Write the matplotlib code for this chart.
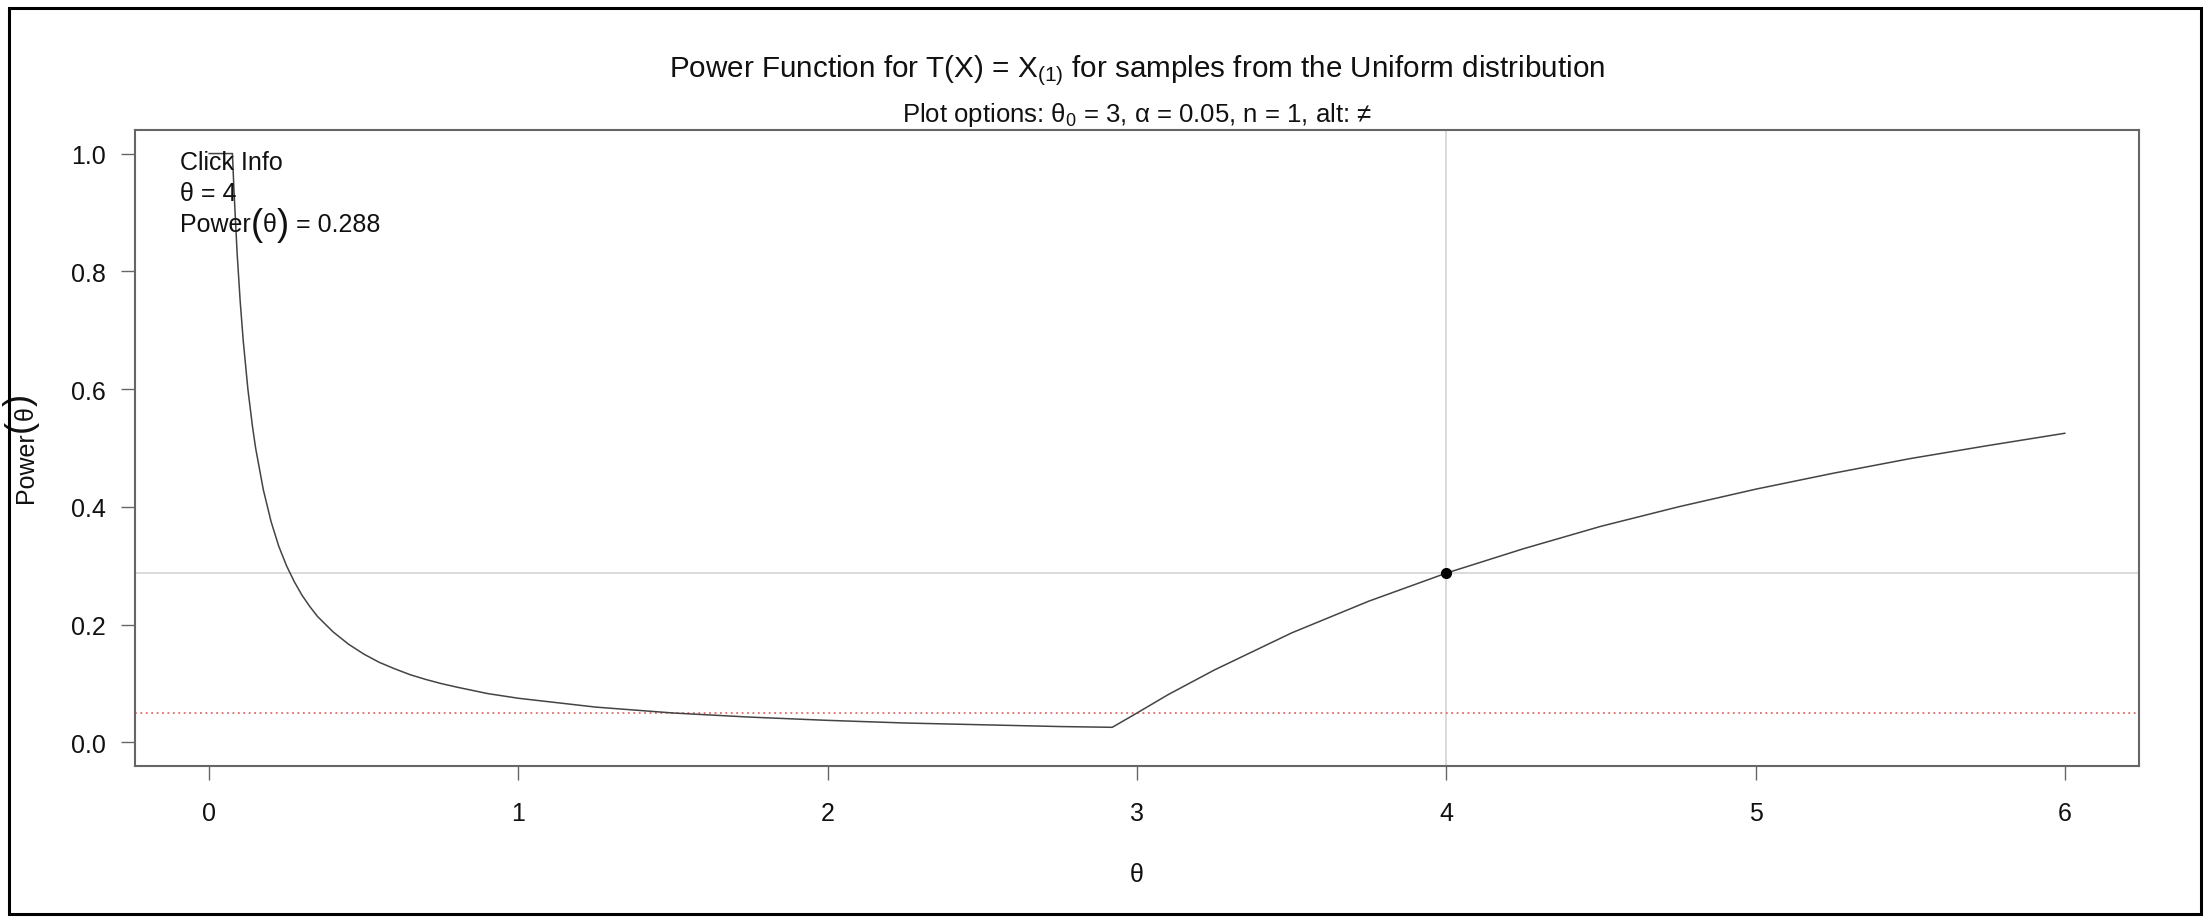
import matplotlib
matplotlib.use("Agg")
import matplotlib.pyplot as plt
from matplotlib.patches import Rectangle

plt.rcParams['font.family'] = ['Liberation Sans', 'DejaVu Sans']
plt.rcParams['mathtext.fontset'] = 'custom'
plt.rcParams['mathtext.rm'] = 'Liberation Sans'
plt.rcParams['mathtext.it'] = 'Liberation Sans'
plt.rcParams['mathtext.bf'] = 'Liberation Sans:bold'

# ---- data ----
theta = [0.0, 0.075, 0.08, 0.09, 0.10, 0.11, 0.125, 0.14, 0.15, 0.175, 0.2, 0.225,
         0.25, 0.275, 0.3, 0.325, 0.35, 0.4, 0.45, 0.5, 0.55, 0.6, 0.65, 0.7, 0.75,
         0.8, 0.9, 1.0, 1.25, 1.5, 1.75, 2.0, 2.25, 2.5, 2.75, 2.92, 3.0, 3.1, 3.2,
         3.25, 3.5, 3.75, 4.0, 4.25, 4.5, 4.75, 5.0, 5.25, 5.5, 5.75, 6.0]
power = [1.0, 1.0, 0.938, 0.833, 0.75, 0.682, 0.60, 0.536, 0.50, 0.429, 0.375, 0.333,
         0.30, 0.273, 0.25, 0.231, 0.214, 0.188, 0.167, 0.15, 0.136, 0.125, 0.115,
         0.107, 0.10, 0.094, 0.083, 0.075, 0.06, 0.05, 0.043, 0.0375, 0.033, 0.03,
         0.027, 0.0257, 0.05, 0.081, 0.109, 0.123, 0.186, 0.24, 0.2875, 0.329, 0.367,
         0.40, 0.43, 0.457, 0.482, 0.504, 0.525]
alpha_level = 0.05
click_theta = 4
click_power = 0.288
x_ticks = [0, 1, 2, 3, 4, 5, 6]
y_ticks = [0.0, 0.2, 0.4, 0.6, 0.8, 1.0]
y_ticklabels = ['0.0', '0.2', '0.4', '0.6', '0.8', '1.0']

W, H = 2208, 920
FS = 18
fig = plt.figure(figsize=(W / 100, H / 100), dpi=100)
fig.patch.set_facecolor('white')

# outer frame
fig.patches.append(Rectangle((9 / W, 5 / H), (2201 - 9) / W, (911 - 5) / H,
                             transform=fig.transFigure, fill=False,
                             edgecolor='black', linewidth=2.2, zorder=10))

ax = fig.add_axes([135 / W, 1 - 767 / H, (2139 - 135) / W, (767 - 131) / H])
ax.set_xlim(-0.24, 6.24)
ax.set_ylim(-0.04, 1.04)

ax.axhline(click_power, color='#d4d4d4', lw=1.2, zorder=1)
ax.axvline(click_theta, color='#d4d4d4', lw=1.2, zorder=1)
ax.axhline(alpha_level, color='#e06a6a', lw=1.3, linestyle=(0, (1, 2.0)), zorder=2)
ax.plot(theta, power, color='#444444', lw=1.1, zorder=3)
ax.plot([click_theta], [click_power], 'o', color='black', ms=7, zorder=4)

for s in ax.spines.values():
    s.set_color('#666666')
    s.set_linewidth(1.5)

ax.set_xticks(x_ticks)
ax.set_xticklabels([str(v) for v in x_ticks])
ax.set_yticks(y_ticks)
ax.set_yticklabels(y_ticklabels)
ax.tick_params(axis='both', length=10, width=1.0, color='#666666',
               labelsize=FS, labelcolor='#111111')
ax.tick_params(axis='x', pad=15)
ax.tick_params(axis='y', pad=11)

renderer = fig.canvas.get_renderer()


def seq_text(x_px, y_px, parts, rotation=0):
    """Place text pieces one after another, starting at pixel (x_px, y_px) on the baseline."""
    x, y = x_px, y_px
    for s, fs, shift in parts:
        if rotation == 0:
            t = fig.text(x, y - shift, s, fontsize=fs, ha='left', va='baseline',
                         transform=None, color='#111111')
            ext = t.get_window_extent(renderer)
            x += ext.width
        else:
            t = fig.text(x + shift, y, s, fontsize=fs, ha='left', va='baseline',
                         rotation=90, rotation_mode='anchor', transform=None,
                         color='#111111')
            ext = t.get_window_extent(renderer)
            y += ext.height


PF = FS * 1.45
# click info (pixel coordinates, origin bottom-left)
seq_text(180, H - 170, [('Click Info', FS, 0)])
seq_text(180, H - 201, [('\u03b8 = 4', FS, 0)])
seq_text(180, H - 232, [('Power', FS, 0), ('(', PF, 3), ('\u03b8', FS, 0), (')', PF, 3),
                        (' = 0.288', FS, 0)])

# titles and labels
cx = (135 + 2139) / 2 / W
fig.text(cx, 1 - 71 / H, r'Power Function for T(X) = X$_{(1)}$ for samples from the Uniform distribution',
         fontsize=21.3, ha='center', va='center', color='#111111')
fig.text(cx, 1 - 115 / H, 'Plot options: \u03b8$_0$ = 3, \u03b1 = 0.05, n = 1, alt: \u2260',
         fontsize=18.5, ha='center', va='center', color='#111111')
fig.text(cx, 1 - 875 / H, '\u03b8', fontsize=FS, ha='center', va='center', color='#111111')
# y label: rotated, reading upward from ~503 px below the top
seq_text(33, H - 503, [('Power', FS, 0), ('(', PF, -3), ('\u03b8', FS, 0), (')', PF, -3)],
         rotation=90)

fig.savefig('out.png', dpi=100, facecolor='white')
